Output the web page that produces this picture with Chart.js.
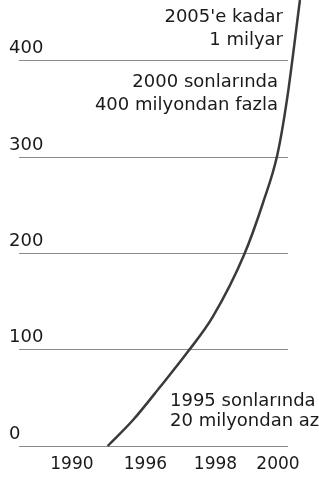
<!DOCTYPE html>
<html>
<head>
<meta charset="utf-8">
<script src="https://cdn.jsdelivr.net/npm/chart.js@4.4.0/dist/chart.umd.min.js"></script>
<style>
  html, body { margin: 0; padding: 0; background: #fff; }
</style>
</head>
<body>
<canvas id="chart" width="319" height="477"></canvas>
<script>
// Internet kullanıcıları (milyon) - eksen eşit aralıklı değil, bu yüzden yıl etiketleri konumla eşleşiyor
const tickLabels = ['1990', '1996', '1998', '2000'];
const tickPositions = [0, 1.07, 2.09, 3];
const yTicks = [0, 100, 200, 300, 400];

// Eğri (x: eksen üzerindeki konum, y: milyon kullanıcı)
const curveX = [0.52, 0.89, 1.28, 1.69, 2.05, 2.51, 2.78, 2.99, 3.13, 3.32];
const users = [0, 27, 61, 98, 134, 199, 252, 302, 359, 463];

// Notlar
const noteTexts = [
  "2005'e kadar",
  '1 milyar',
  '2000 sonlarında',
  '400 milyondan fazla',
  '1995 sonlarında',
  '20 milyondan az',
];
const noteLayout = [
  { x: 283, y: 22, align: 'right' },
  { x: 283, y: 45, align: 'right' },
  { x: 278, y: 87, align: 'right' },
  { x: 278, y: 110, align: 'right' },
  { x: 170, y: 406, align: 'left' },
  { x: 170, y: 426, align: 'left' },
];

const textColor = '#1a1a1a';
const fontFamily = '"DejaVu Sans", sans-serif';

const notesPlugin = {
  id: 'notes',
  afterDraw(chart) {
    const ctx = chart.ctx;
    ctx.save();
    ctx.font = '18px ' + fontFamily;
    ctx.fillStyle = textColor;
    ctx.textBaseline = 'alphabetic';
    noteTexts.forEach((text, i) => {
      const pos = noteLayout[i];
      ctx.textAlign = pos.align;
      ctx.fillText(text, pos.x, pos.y);
    });
    ctx.restore();
  },
};

const bgPlugin = {
  id: 'bg',
  beforeDraw(chart) {
    const ctx = chart.ctx;
    ctx.save();
    ctx.fillStyle = '#ffffff';
    ctx.fillRect(0, 0, chart.width, chart.height);
    ctx.restore();
  },
};

new Chart(document.getElementById('chart'), {
  type: 'line',
  data: {
    datasets: [{
      data: curveX.map((x, i) => ({ x, y: users[i] })),
      borderColor: '#3a3a3a',
      borderWidth: 2.5,
      pointRadius: 0,
      cubicInterpolationMode: 'monotone',
      clip: false,
    }],
  },
  options: {
    responsive: false,
    animation: false,
    layout: { padding: { left: 9, right: 31, top: 0, bottom: 0 } },
    plugins: { legend: { display: false }, tooltip: { enabled: false } },
    scales: {
      x: {
        type: 'linear',
        bounds: 'data',
        afterDataLimits: (s) => { s.min = -0.77; s.max = 3.146; },
        afterBuildTicks: (s) => { s.ticks = tickPositions.map((v) => ({ value: v })); },
        afterFit: (s) => { s.height = 31; },
        ticks: {
          callback: (v, i) => tickLabels[i],
          autoSkip: false,
          maxRotation: 0,
          padding: 8,
          color: textColor,
          font: { family: fontFamily, size: 17 },
        },
        grid: { display: false, drawTicks: false },
        border: { display: false },
      },
      y: {
        min: 0,
        max: 463,
        afterBuildTicks: (s) => { s.ticks = yTicks.map((v) => ({ value: v })); },
        afterFit: (s) => { s.width = 10; s.paddingTop = 0; },
        ticks: {
          mirror: true,
          padding: -10,
          labelOffset: -12,
          color: textColor,
          font: { family: fontFamily, size: 18 },
        },
        grid: { color: '#8a8a8a', lineWidth: 1, drawTicks: false },
        border: { display: false },
      },
    },
  },
  plugins: [bgPlugin, notesPlugin],
});
</script>
</body>
</html>
